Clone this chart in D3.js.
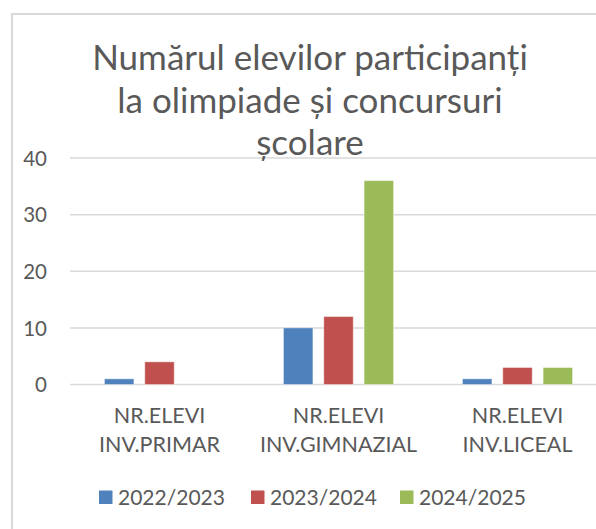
<!DOCTYPE html>
<html><head><meta charset="utf-8">
<script src="https://cdn.jsdelivr.net/npm/d3@7"></script>
<style>body{margin:0;background:#fff}svg{display:block}</style>
</head><body>
<script>
const categories = [["NR.ELEVI","INV.PRIMAR"],["NR.ELEVI","INV.GIMNAZIAL"],["NR.ELEVI","INV.LICEAL"]];
const seriesNames = ["2022/2023","2023/2024","2024/2025"];
const series2022 = [1, 10, 1];
const series2023 = [4, 12, 3];
const series2024 = [0, 36, 3];
const colors = ["#4f81bd","#c0504d","#9bbb59"];
const yTicks = [0,10,20,30,40];
const titleLines = ["Numărul elevilor participanți","la olimpiade și concursuri","școlare"];

const W=596,H=529, font="Lato, 'Open Sans', sans-serif", txt="#595959";
const svg=d3.select("body").append("svg").attr("width",W).attr("height",H);
svg.append("rect").attr("x",12).attr("y",14).attr("width",640).attr("height",600)
  .attr("fill","#fff").attr("stroke","#d9d9d9").attr("stroke-width",2);

const y=d3.scaleLinear().domain([0,40]).range([384.5,158]);
const x0=d3.scaleBand().domain(categories.map((d,i)=>i)).range([70,607]).paddingInner(0.385).paddingOuter(0.1925);
const x1=d3.scaleBand().domain(seriesNames).range([0,x0.bandwidth()]).paddingInner(0.27);

const yAxis=d3.axisLeft(y).tickValues(yTicks).tickSize(0).tickPadding(0);
const gy=svg.append("g").attr("transform","translate(47,0)").call(yAxis);
gy.select(".domain").remove();
gy.selectAll("text").attr("font-family",font).attr("font-size",20.5).attr("fill",txt).attr("dy","0.35em");

svg.append("g").selectAll("line").data(yTicks).join("line")
  .attr("x1",70).attr("x2",W).attr("y1",d=>y(d)).attr("y2",d=>y(d))
  .attr("stroke","#d9d9d9").attr("stroke-width",1.5);

const data=[series2022,series2023,series2024];
categories.forEach((c,i)=>{
  const g=svg.append("g").attr("transform",`translate(${x0(i)},0)`);
  seriesNames.forEach((s,j)=>{
    const v=data[j][i];
    if(v>0) g.append("rect").attr("x",x1(s)).attr("width",x1.bandwidth())
      .attr("y",y(v)).attr("height",y(0)-y(v)).attr("fill",colors[j])
      .attr("stroke","#fff").attr("stroke-opacity",0.4).attr("stroke-width",1);
  });
});

const xAxis=d3.axisBottom(x0).tickSize(0).tickFormat(()=> "");
const gx=svg.append("g").attr("transform","translate(0,384.5)").call(xAxis);
gx.select(".domain").remove();
gx.selectAll(".tick").each(function(d){
  const t=d3.select(this).append("text").attr("font-family",font).attr("font-size",21.5).attr("fill",txt).attr("text-anchor","middle");
  categories[d].forEach((l,k)=>t.append("tspan").attr("x",0).attr("y",38.5+k*29).text(l));
});

const title=svg.append("text").attr("font-family",font).attr("font-size",35).attr("fill",txt).attr("text-anchor","middle");
titleLines.forEach((l,k)=>title.append("tspan").attr("x",310).attr("y",70+k*42.5).text(l));

const legX=[99,251,400];
const leg=svg.append("g").selectAll("g").data(seriesNames).join("g")
  .attr("transform",(d,i)=>`translate(${legX[i]},0)`);
leg.append("rect").attr("y",490.5).attr("width",13.5).attr("height",13.5).attr("fill",(d,i)=>colors[i]);
leg.append("text").attr("x",19).attr("y",505).attr("font-family",font).attr("font-size",21).attr("fill",txt).text(d=>d);
</script>
</body></html>
